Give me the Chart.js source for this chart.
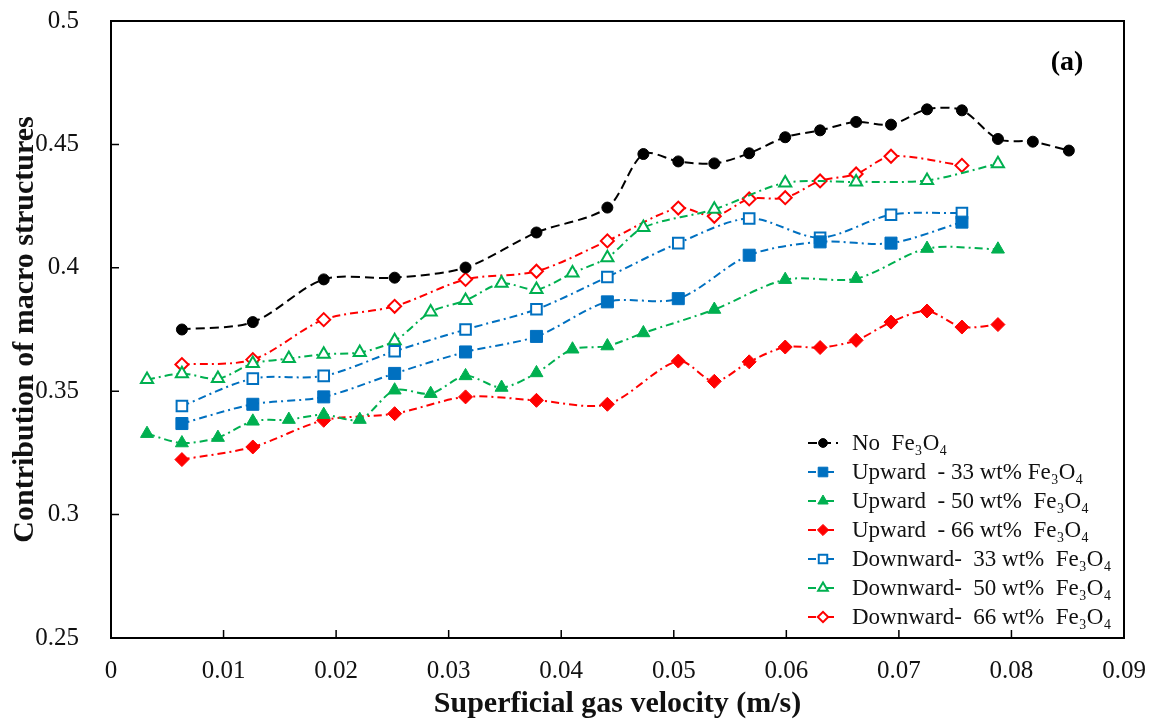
<!DOCTYPE html>
<html>
<head>
<meta charset="utf-8">
<script src="https://cdn.jsdelivr.net/npm/chart.js@4.4.1/dist/chart.umd.min.js"></script>
<style>
  html, body { margin: 0; padding: 0; background: #fff; }
  #wrap { width: 1154px; height: 722px; }
</style>
</head>
<body>
<div id="wrap"><canvas id="chart" width="1154" height="722"></canvas></div>
<script>
// superficial gas velocity (m/s) for each series
const velNone = [0.0063, 0.0126, 0.0189, 0.0252, 0.0315, 0.0378, 0.0441, 0.0473, 0.0504, 0.0536,
                 0.0567, 0.0599, 0.063, 0.0662, 0.0693, 0.0725, 0.0756, 0.0788, 0.0819, 0.0851];
const vel33 = [0.0063, 0.0126, 0.0189, 0.0252, 0.0315, 0.0378, 0.0441, 0.0504, 0.0567, 0.063, 0.0693, 0.0756];
const vel50 = [0.0032, 0.0063, 0.0095, 0.0126, 0.0158, 0.0189, 0.0221, 0.0252, 0.0284, 0.0315,
               0.0347, 0.0378, 0.041, 0.0441, 0.0473, 0.0536, 0.0599, 0.0662, 0.0725, 0.0788];
const velUp66 = [0.0063, 0.0126, 0.0189, 0.0252, 0.0315, 0.0378, 0.0441, 0.0504, 0.0536, 0.0567,
                 0.0599, 0.063, 0.0662, 0.0693, 0.0725, 0.0756, 0.0788];
const velDown66 = [0.0063, 0.0126, 0.0189, 0.0252, 0.0315, 0.0378, 0.0441, 0.0504, 0.0536, 0.0567,
                   0.0599, 0.063, 0.0662, 0.0693, 0.0756];

// contribution of macro structures
const noFe = [0.375, 0.378, 0.3953, 0.396, 0.4001, 0.4143, 0.4244, 0.4461, 0.4431, 0.4423,
              0.4464, 0.4529, 0.4557, 0.4591, 0.458, 0.4642, 0.4638, 0.4522, 0.4511, 0.4475];
const up33 = [0.3369, 0.3447, 0.3477, 0.3572, 0.3659, 0.3722, 0.3862, 0.3875, 0.4051, 0.4105, 0.41, 0.4185];
const up50 = [0.3328, 0.329, 0.3312, 0.3378, 0.3385, 0.3405, 0.3385, 0.3504, 0.349, 0.3562,
              0.3515, 0.3574, 0.367, 0.3683, 0.3736, 0.3831, 0.3952, 0.3956, 0.4078, 0.4075];
const up66 = [0.3223, 0.3274, 0.3382, 0.3409, 0.3477, 0.3463, 0.3447, 0.3622, 0.354, 0.3619,
              0.3679, 0.3677, 0.3706, 0.378, 0.3825, 0.376, 0.377];
const down33 = [0.344, 0.3551, 0.3562, 0.3662, 0.375, 0.3832, 0.3963, 0.41, 0.42, 0.4122, 0.4215, 0.4222];
const down50 = [0.3547, 0.3571, 0.3551, 0.3612, 0.3632, 0.365, 0.3657, 0.3704, 0.3821, 0.3868,
                0.3937, 0.3912, 0.3979, 0.4041, 0.4163, 0.4237, 0.4344, 0.4348, 0.4354, 0.4422];
const down66 = [0.3608, 0.3628, 0.379, 0.3844, 0.3953, 0.3986, 0.4109, 0.4242, 0.4209, 0.4279,
                0.4284, 0.4352, 0.438, 0.4452, 0.4415];

const xTicks = [0, 0.01, 0.02, 0.03, 0.04, 0.05, 0.06, 0.07, 0.08, 0.09];
const yTicks = [0.25, 0.3, 0.35, 0.4, 0.45, 0.5];

const seriesLabels = [
  'No  Fe₃O₄',
  'Upward  - 33 wt% Fe₃O₄',
  'Upward  - 50 wt%  Fe₃O₄',
  'Upward  - 66 wt%  Fe₃O₄',
  'Downward-  33 wt%  Fe₃O₄',
  'Downward-  50 wt%  Fe₃O₄',
  'Downward-  66 wt%  Fe₃O₄'
];

const SERIF = "'Liberation Serif', 'Times New Roman', serif";
const BLUE = '#0070C0', GREEN = '#00B050', RED = '#FF0000';
const DASH = [9, 5];
const DASHDOT = [8, 4, 2, 4];

function pts(xs, ys) {
  return xs.map((x, i) => ({ x: x, y: ys[i] }));
}

function series(label, xs, ys, color, dash, style, radius, filled) {
  return {
    label: label,
    data: pts(xs, ys),
    showLine: true,
    borderColor: color,
    borderWidth: 2,
    borderDash: dash,
    tension: 0.3,
    pointStyle: style,
    pointRadius: radius,
    pointHoverRadius: radius,
    pointBorderWidth: filled ? 1 : 2,
    pointBorderColor: color,
    pointBackgroundColor: filled ? color : '#ffffff'
  };
}

const datasets = [
  series(seriesLabels[0], velNone, noFe, '#000000', DASH, 'circle', 5.5, true),
  series(seriesLabels[1], vel33, up33, BLUE, DASHDOT, 'rect', 8.5, true),
  series(seriesLabels[2], vel50, up50, GREEN, DASHDOT, 'triangle', 7.5, true),
  series(seriesLabels[3], velUp66, up66, RED, DASHDOT, 'rectRot', 7, true),
  series(seriesLabels[4], vel33, down33, BLUE, DASHDOT, 'rect', 7.5, false),
  series(seriesLabels[5], vel50, down50, GREEN, DASHDOT, 'triangle', 7, false),
  series(seriesLabels[6], velDown66, down66, RED, DASHDOT, 'rectRot', 6.5, false)
];

// frame, inward ticks, panel tag and legend inside the plot area
const decor = {
  id: 'decor',
  afterDatasetsDraw(chart) {
    const { ctx, chartArea: a, scales } = chart;
    ctx.save();
    ctx.strokeStyle = '#000';
    ctx.lineWidth = 2;
    ctx.setLineDash([]);
    ctx.strokeRect(a.left, a.top, a.right - a.left, a.bottom - a.top);
    ctx.lineWidth = 1.5;
    ctx.beginPath();
    xTicks.forEach(v => {
      const px = scales.x.getPixelForValue(v);
      ctx.moveTo(px, a.bottom);
      ctx.lineTo(px, a.bottom - 8);
    });
    yTicks.forEach(v => {
      const py = scales.y.getPixelForValue(v);
      ctx.moveTo(a.left, py);
      ctx.lineTo(a.left + 8, py);
    });
    ctx.stroke();

    ctx.fillStyle = '#000';
    ctx.font = 'bold 28px ' + SERIF;
    ctx.textAlign = 'center';
    ctx.textBaseline = 'middle';
    ctx.fillText('(a)', a.right - 57, a.top + 42);
    ctx.restore();
  },
  afterDraw(chart) {
    const { ctx, chartArea: a } = chart;
    const x0 = a.right - 316;
    const y0 = a.bottom - 195;
    ctx.save();
    chart.data.datasets.forEach((ds, i) => {
      const y = y0 + i * 29;
      ctx.strokeStyle = ds.borderColor;
      ctx.lineWidth = 2;
      ctx.setLineDash(ds.borderDash);
      ctx.beginPath();
      ctx.moveTo(x0, y);
      ctx.lineTo(x0 + 30, y);
      ctx.stroke();
      ctx.setLineDash([]);
      ctx.fillStyle = ds.pointBackgroundColor;
      ctx.strokeStyle = ds.pointBorderColor;
      ctx.lineWidth = ds.pointBorderWidth;
      Chart.helpers.drawPoint(ctx, {
        pointStyle: ds.pointStyle,
        radius: ds.pointRadius * 0.8,
        rotation: 0,
        borderWidth: ds.pointBorderWidth
      }, x0 + 15, y);
      ctx.fillStyle = '#111';
      ctx.font = '23px ' + SERIF;
      ctx.textAlign = 'left';
      ctx.textBaseline = 'middle';
      ctx.fillText(ds.label, x0 + 44, y + 1);
    });
    ctx.restore();
  }
};

new Chart(document.getElementById('chart'), {
  type: 'scatter',
  data: { datasets: datasets },
  options: {
    responsive: false,
    animation: false,
    layout: { padding: { top: 21, right: 30, left: 0, bottom: 0 } },
    plugins: {
      legend: { display: false },
      tooltip: { enabled: false }
    },
    scales: {
      x: {
        type: 'linear',
        min: 0,
        max: 0.09,
        afterFit: s => { s.height = 84; s.paddingLeft = 0; s.paddingRight = 0; },
        afterBuildTicks: s => { s.ticks = xTicks.map(v => ({ value: v })); },
        grid: { display: false },
        border: { display: false },
        ticks: {
          padding: 10,
          color: '#111',
          font: { family: SERIF, size: 25 },
          maxRotation: 0,
          callback: v => String(+v.toFixed(2))
        },
        title: {
          display: true,
          text: 'Superficial gas velocity (m/s)',
          color: '#111',
          font: { family: SERIF, size: 30, weight: 'bold' },
          padding: { top: 0, bottom: 0 }
        }
      },
      y: {
        type: 'linear',
        min: 0.25,
        max: 0.5,
        afterFit: s => { s.width = 111; s.paddingTop = 0; s.paddingBottom = 0; },
        afterBuildTicks: s => { s.ticks = yTicks.map(v => ({ value: v })); },
        grid: { display: false },
        border: { display: false },
        ticks: {
          padding: 24,
          color: '#111',
          font: { family: SERIF, size: 25 },
          callback: v => String(+v.toFixed(2))
        },
        title: {
          display: true,
          text: 'Contribution of macro structures',
          color: '#111',
          font: { family: SERIF, size: 30, weight: 'bold' },
          padding: { top: 7, bottom: 0 }
        }
      }
    }
  },
  plugins: [decor]
});
</script>
</body>
</html>
